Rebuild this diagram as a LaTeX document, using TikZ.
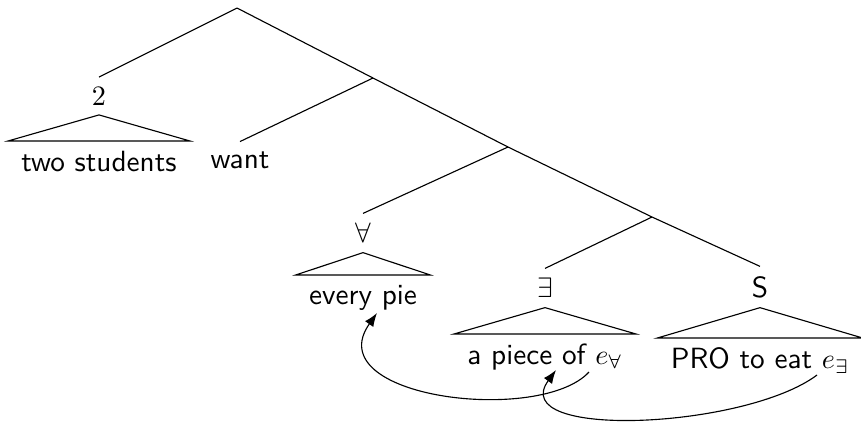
\documentclass[tikz,border=0pt]{standalone}
\usetikzlibrary{positioning, arrows.meta, calc}
\begin{document}
\begin{tikzpicture}[x=0.0125cm, y=-0.0125cm, >=Latex, font=\fontsize{10.4}{12.5}\sffamily, cat/.style={inner sep=3.3pt}, phrase/.style={anchor=north, inner xsep=4.6pt}, move/.style={->, thin}]
\useasboundingbox (0,0) rectangle (861,422);
% spine
\coordinate (R) at (237,8);
\coordinate (N1) at (373,78);
\coordinate (N2) at (508,147);
\coordinate (N3) at (652,217);
% category labels
\node[cat] (two) at (99,96) {$2$};
\node[cat] (fa) at (363,233) {$\forall$};
\node[cat] (ex) at (545,288) {$\exists$};
\node[cat] (S) at (760,287) {S};
\node (want) at (240,160) {want};
% phrases under triangles
\node[phrase] (ts) at (99,141) {two students};
\node[phrase] (ep) at (363,275) {every pie};
\node[phrase] (ap) at (545,334) {a piece of $e_{\forall}$};
\node[phrase] (pro) at (760,338) {PRO to eat $e_{\exists}$};
\draw (R) -- (N1) -- (N2) -- (N3) -- (S.north);
\draw (R) -- (two.north); \draw (N1) -- (want.north);
\draw (N2) -- (fa.north); \draw (N3) -- (ex.north);
\draw (two.south) -- (ts.north west) -- (ts.north east) -- cycle;
\draw (fa.south) -- (ep.north west) -- (ep.north east) -- cycle;
\draw (ex.south) -- (ap.north west) -- (ap.north east) -- cycle;
\draw (S.south) -- (pro.north west) -- (pro.north east) -- cycle;
% movement arrows
\coordinate (eAll) at (589,372);
\coordinate (eEx) at (817,375);
\coordinate (epTip) at (377,313);
\coordinate (apTip) at (556,370);
\draw[move] (eAll) .. controls (540,425) and (317,398) .. (epTip);
\draw[move] (eEx) .. controls (745,429) and (505,440) .. (apTip);
\end{tikzpicture}
\end{document}
